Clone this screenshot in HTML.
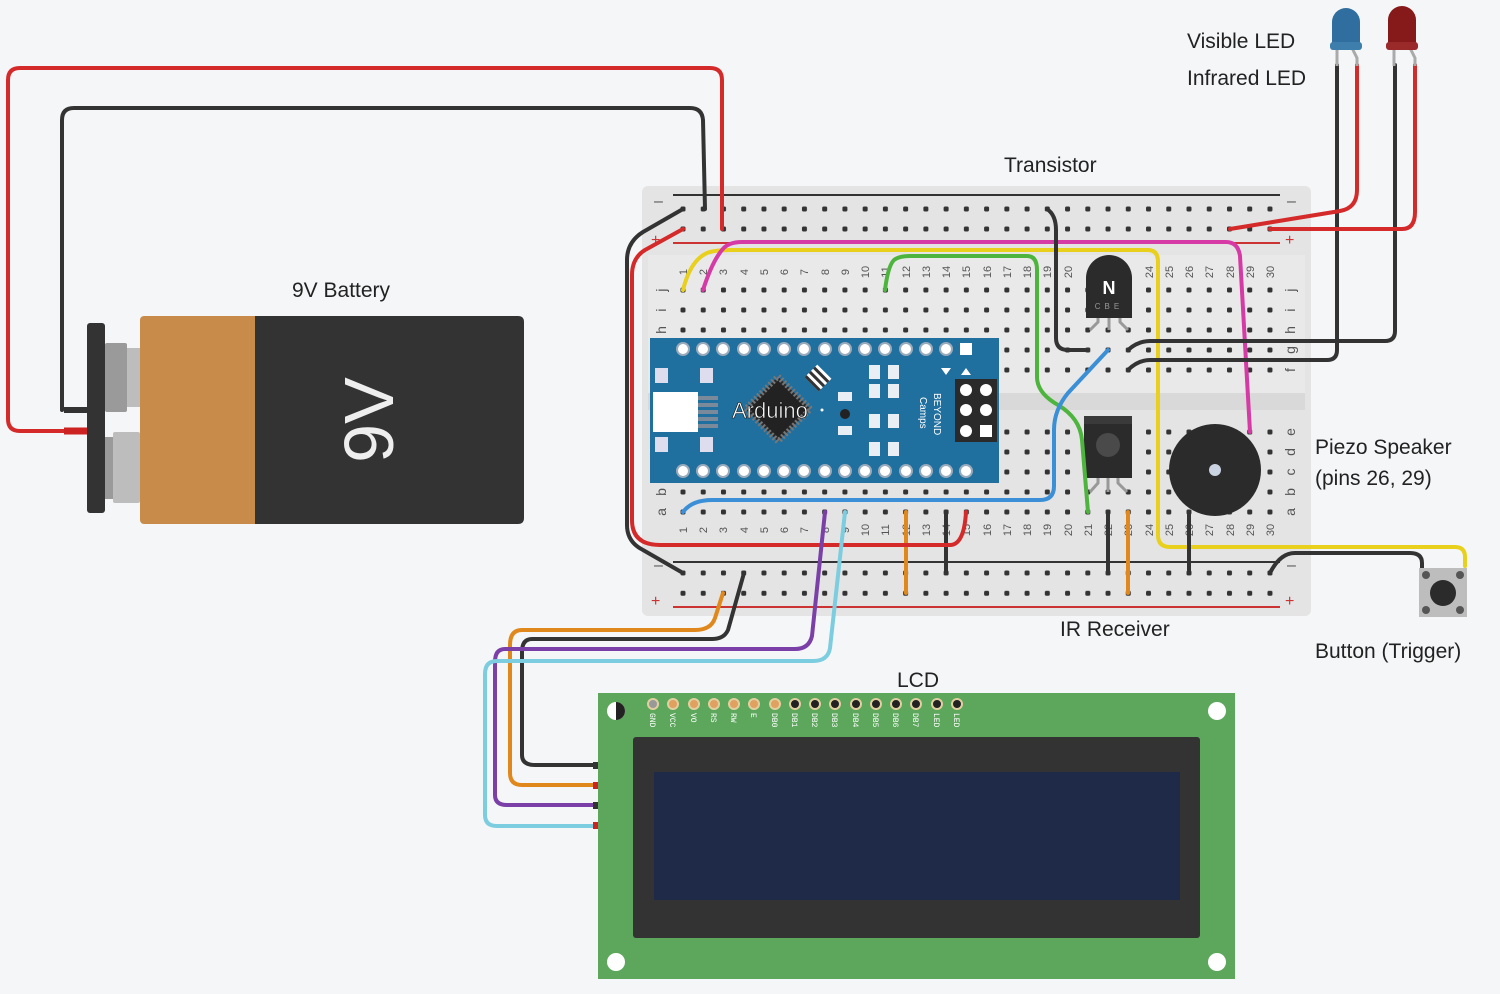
<!DOCTYPE html>
<html><head><meta charset="utf-8"><style>
html,body{margin:0;padding:0;background:#f4f6f8;}
svg{display:block;font-family:"Liberation Sans","DejaVu Sans",sans-serif;}
.lbl{font-size:21px;fill:#222;}
.w{fill:none;stroke-width:4;stroke-linecap:round;stroke-linejoin:round;}
.num{font-size:11px;fill:#555;}
.pin{font-size:8px;fill:#fff;font-family:"Liberation Mono",monospace;}
</style></head><body>
<svg width="1500" height="994" viewBox="0 0 1500 994" xmlns="http://www.w3.org/2000/svg">
<defs>
<pattern id="hole" x="680.5" y="287.5" width="20.24" height="20" patternUnits="userSpaceOnUse">
<rect x="0" y="0" width="5" height="5" rx="1.5" fill="#333"/>
</pattern>
<pattern id="hole2" x="680.5" y="206.5" width="20.24" height="20" patternUnits="userSpaceOnUse">
<rect x="0" y="0" width="5" height="5" rx="1.5" fill="#333"/>
</pattern>
<pattern id="hole3" x="680.5" y="429.5" width="20.24" height="20" patternUnits="userSpaceOnUse">
<rect x="0" y="0" width="5" height="5" rx="1.5" fill="#333"/>
</pattern>
<pattern id="hole4" x="680.5" y="570.5" width="20.24" height="20.3" patternUnits="userSpaceOnUse">
<rect x="0" y="0" width="5" height="5" rx="1.5" fill="#333"/>
</pattern>
</defs>

<!-- Breadboard -->
<rect x="642" y="186" width="669" height="430" rx="6" fill="#e4e4e4"/>
<rect x="648" y="255" width="657" height="140" fill="#e9e9e9"/>
<rect x="648" y="393" width="657" height="17" fill="#d9d9d9"/>
<line x1="673" y1="195" x2="1280" y2="195" stroke="#333" stroke-width="2"/>
<line x1="673" y1="243" x2="1280" y2="243" stroke="#c33" stroke-width="2"/>
<line x1="673" y1="562" x2="1280" y2="562" stroke="#333" stroke-width="2"/>
<line x1="673" y1="607" x2="1280" y2="607" stroke="#c33" stroke-width="2"/>
<rect x="680" y="206" width="595" height="30" fill="url(#hole2)"/>
<rect x="680" y="287" width="595" height="90" fill="url(#hole)"/>
<rect x="680" y="429" width="595" height="90" fill="url(#hole3)"/>
<rect x="680" y="570" width="595" height="30" fill="url(#hole4)"/>
<g font-size="16" fill="#555">
<text x="654" y="206">–</text><text x="1287" y="206">–</text>
<text x="651" y="245" fill="#c33">+</text><text x="1285" y="245" fill="#c33">+</text>
<text x="654" y="570">–</text><text x="1287" y="570">–</text>
<text x="651" y="606" fill="#c33">+</text><text x="1285" y="606" fill="#c33">+</text>
</g>
<g font-size="14" fill="#555" text-anchor="middle">
<text transform="translate(666,290) rotate(-90)">j</text>
<text transform="translate(666,310) rotate(-90)">i</text>
<text transform="translate(666,330) rotate(-90)">h</text>
<text transform="translate(666,350) rotate(-90)">g</text>
<text transform="translate(666,370) rotate(-90)">f</text>
<text transform="translate(666,432) rotate(-90)">e</text>
<text transform="translate(666,452) rotate(-90)">d</text>
<text transform="translate(666,472) rotate(-90)">c</text>
<text transform="translate(666,492) rotate(-90)">b</text>
<text transform="translate(666,512) rotate(-90)">a</text>
<text transform="translate(1295,290) rotate(-90)">j</text>
<text transform="translate(1295,310) rotate(-90)">i</text>
<text transform="translate(1295,330) rotate(-90)">h</text>
<text transform="translate(1295,350) rotate(-90)">g</text>
<text transform="translate(1295,370) rotate(-90)">f</text>
<text transform="translate(1295,432) rotate(-90)">e</text>
<text transform="translate(1295,452) rotate(-90)">d</text>
<text transform="translate(1295,472) rotate(-90)">c</text>
<text transform="translate(1295,492) rotate(-90)">b</text>
<text transform="translate(1295,512) rotate(-90)">a</text>
</g>
<g class="num" text-anchor="middle">
<text transform="translate(687,272) rotate(-90)">1</text><text transform="translate(707,272) rotate(-90)">2</text><text transform="translate(727,272) rotate(-90)">3</text><text transform="translate(748,272) rotate(-90)">4</text><text transform="translate(768,272) rotate(-90)">5</text><text transform="translate(788,272) rotate(-90)">6</text><text transform="translate(808,272) rotate(-90)">7</text><text transform="translate(829,272) rotate(-90)">8</text><text transform="translate(849,272) rotate(-90)">9</text><text transform="translate(869,272) rotate(-90)">10</text><text transform="translate(889,272) rotate(-90)">11</text><text transform="translate(910,272) rotate(-90)">12</text><text transform="translate(930,272) rotate(-90)">13</text><text transform="translate(950,272) rotate(-90)">14</text><text transform="translate(970,272) rotate(-90)">15</text><text transform="translate(991,272) rotate(-90)">16</text><text transform="translate(1011,272) rotate(-90)">17</text><text transform="translate(1031,272) rotate(-90)">18</text><text transform="translate(1051,272) rotate(-90)">19</text><text transform="translate(1072,272) rotate(-90)">20</text><text transform="translate(1153,272) rotate(-90)">24</text><text transform="translate(1173,272) rotate(-90)">25</text><text transform="translate(1193,272) rotate(-90)">26</text><text transform="translate(1213,272) rotate(-90)">27</text><text transform="translate(1234,272) rotate(-90)">28</text><text transform="translate(1254,272) rotate(-90)">29</text><text transform="translate(1274,272) rotate(-90)">30</text>
<text transform="translate(687,530) rotate(-90)">1</text><text transform="translate(707,530) rotate(-90)">2</text><text transform="translate(727,530) rotate(-90)">3</text><text transform="translate(748,530) rotate(-90)">4</text><text transform="translate(768,530) rotate(-90)">5</text><text transform="translate(788,530) rotate(-90)">6</text><text transform="translate(808,530) rotate(-90)">7</text><text transform="translate(829,530) rotate(-90)">8</text><text transform="translate(849,530) rotate(-90)">9</text><text transform="translate(869,530) rotate(-90)">10</text><text transform="translate(889,530) rotate(-90)">11</text><text transform="translate(910,530) rotate(-90)">12</text><text transform="translate(930,530) rotate(-90)">13</text><text transform="translate(950,530) rotate(-90)">14</text><text transform="translate(970,530) rotate(-90)">15</text><text transform="translate(991,530) rotate(-90)">16</text><text transform="translate(1011,530) rotate(-90)">17</text><text transform="translate(1031,530) rotate(-90)">18</text><text transform="translate(1051,530) rotate(-90)">19</text><text transform="translate(1072,530) rotate(-90)">20</text><text transform="translate(1092,530) rotate(-90)">21</text><text transform="translate(1112,530) rotate(-90)">22</text><text transform="translate(1132,530) rotate(-90)">23</text><text transform="translate(1153,530) rotate(-90)">24</text><text transform="translate(1173,530) rotate(-90)">25</text><text transform="translate(1193,530) rotate(-90)">26</text><text transform="translate(1213,530) rotate(-90)">27</text><text transform="translate(1234,530) rotate(-90)">28</text><text transform="translate(1254,530) rotate(-90)">29</text><text transform="translate(1274,530) rotate(-90)">30</text>
</g>

<!-- Arduino Nano -->
<rect x="650" y="338" width="349" height="145" fill="#1f6f9f"/>
<g fill="#fff" stroke="#9ab" stroke-width="2">
<circle cx="683" cy="349" r="6"/><circle cx="703" cy="349" r="6"/><circle cx="723" cy="349" r="6"/><circle cx="744" cy="349" r="6"/><circle cx="764" cy="349" r="6"/><circle cx="784" cy="349" r="6"/><circle cx="804" cy="349" r="6"/><circle cx="825" cy="349" r="6"/><circle cx="845" cy="349" r="6"/><circle cx="865" cy="349" r="6"/><circle cx="885" cy="349" r="6"/><circle cx="906" cy="349" r="6"/><circle cx="926" cy="349" r="6"/><circle cx="946" cy="349" r="6"/>
<circle cx="683" cy="471" r="6"/><circle cx="703" cy="471" r="6"/><circle cx="723" cy="471" r="6"/><circle cx="744" cy="471" r="6"/><circle cx="764" cy="471" r="6"/><circle cx="784" cy="471" r="6"/><circle cx="804" cy="471" r="6"/><circle cx="825" cy="471" r="6"/><circle cx="845" cy="471" r="6"/><circle cx="865" cy="471" r="6"/><circle cx="885" cy="471" r="6"/><circle cx="906" cy="471" r="6"/><circle cx="926" cy="471" r="6"/><circle cx="946" cy="471" r="6"/><circle cx="966" cy="471" r="6"/>
</g>
<rect x="960" y="343" width="12" height="12" fill="#fff"/>
<rect x="653" y="392" width="45" height="40" fill="#fff"/>
<g fill="#7a8a9a"><rect x="698" y="396" width="20" height="4"/><rect x="698" y="403" width="20" height="4"/><rect x="698" y="410" width="20" height="4"/><rect x="698" y="417" width="20" height="4"/><rect x="698" y="424" width="20" height="4"/></g>
<g fill="#dde"><rect x="655" y="368" width="13" height="15"/><rect x="700" y="368" width="13" height="15"/><rect x="655" y="437" width="13" height="15"/><rect x="700" y="437" width="13" height="15"/></g>
<rect x="755" y="386" width="46" height="46" fill="#2a2a2a" stroke="#777" stroke-width="6" stroke-dasharray="2 2" transform="rotate(45 778 409)"/>
<rect x="758" y="389" width="40" height="40" fill="#222" transform="rotate(45 778 409)"/>
<g transform="rotate(45 818 378)"><rect x="808" y="369" width="20" height="18" fill="#fff"/><rect x="808" y="372" width="20" height="3" fill="#333"/><rect x="808" y="378" width="20" height="3" fill="#333"/><rect x="808" y="384" width="20" height="3" fill="#333"/></g>
<text x="732" y="418" font-size="22" fill="#fff" stroke="#111" stroke-width="0.6">Arduino</text>
<circle cx="822" cy="410" r="1.5" fill="#fff"/>
<circle cx="845" cy="414" r="5" fill="#222"/>
<g fill="#e8eef3"><rect x="838" y="392" width="14" height="9"/><rect x="838" y="426" width="14" height="9"/>
<rect x="869" y="365" width="11" height="14"/><rect x="888" y="365" width="11" height="14"/><rect x="869" y="384" width="11" height="14"/><rect x="888" y="384" width="11" height="14"/><rect x="869" y="414" width="11" height="14"/><rect x="888" y="414" width="11" height="14"/><rect x="869" y="442" width="11" height="14"/><rect x="888" y="442" width="11" height="14"/></g>
<text transform="translate(934,393) rotate(90)" font-size="10" fill="#fff">BEYOND</text>
<text transform="translate(920,397) rotate(90)" font-size="10" fill="#fff">Camps</text>
<polygon points="941,368 951,368 946,375" fill="#fff"/><polygon points="961,375 971,375 966,368" fill="#fff"/>
<rect x="955" y="379" width="42" height="63" fill="#2a2a2a"/>
<g fill="#fff"><circle cx="966" cy="390" r="6"/><circle cx="986" cy="390" r="6"/><circle cx="966" cy="410" r="6"/><circle cx="986" cy="410" r="6"/><circle cx="966" cy="431" r="6"/><rect x="980" y="425" width="12" height="12"/></g>

<!-- Transistor -->
<path d="M1086,318 V278 A23,23 0 0 1 1132,278 V318 Z" fill="#2b2b2b"/>
<text x="1109" y="294" font-size="18" fill="#fff" text-anchor="middle" font-weight="bold">N</text>
<text x="1109" y="309" font-size="8" fill="#999" text-anchor="middle" letter-spacing="4">CBE</text>
<g stroke="#999" stroke-width="3" fill="none"><path d="M1098,318 V322 L1090,330"/><path d="M1109,318 V330"/><path d="M1120,318 V322 L1128,330"/></g>
<!-- IR receiver -->
<rect x="1084" y="416" width="48" height="62" fill="#2b2b2b"/>
<rect x="1084" y="416" width="48" height="8" fill="#3a3a3a"/>
<circle cx="1108" cy="445" r="12" fill="#4a4a4a"/>
<g stroke="#999" stroke-width="3" fill="none"><path d="M1098,478 V483 L1090,492"/><path d="M1108,478 V492"/><path d="M1118,478 V483 L1127,492"/></g>
<!-- Piezo -->
<circle cx="1215" cy="470" r="46" fill="#2b2b2b"/>
<circle cx="1215" cy="470" r="6" fill="#c9d3e2"/>

<!-- Wires on breadboard -->
<path class="w" stroke="#e8d01c" d="M683,290 Q690,262 705,254 Q712,250 730,250 H1148 Q1158,250 1158,262 V535 Q1158,547 1170,547 H1455 Q1465,547 1465,557 V566"/>
<path class="w" stroke="#d63aa5" d="M703,290 Q712,262 722,250 Q728,242 742,242 H1226 Q1238,242 1240,256 L1250,432"/>
<path class="w" stroke="#4db53d" d="M885,290 Q888,266 894,260 Q899,256 910,256 H1027 Q1037,256 1037,270 V377 Q1037,393 1058,405 Q1080,418 1082,440 L1088,512"/>
<path class="w" stroke="#3a8fd6" d="M683,512 Q692,500 712,500 H1040 Q1054,500 1054,486 V430 Q1054,410 1068,393 L1108,350"/>
<path class="w" stroke="#333" d="M1047,209 Q1056,215 1056,230 V338 Q1056,350 1068,350 H1085"/>
<path class="w" stroke="#e0881c" d="M906,512 V593"/>
<path class="w" stroke="#e0881c" d="M1128,512 V593"/>
<path class="w" stroke="#333" d="M946,512 V573"/>
<path class="w" stroke="#333" d="M1108,512 V573"/>
<path class="w" stroke="#333" d="M1189,512 V573"/>
<path class="w" stroke="#333" d="M1270,573 Q1280,553 1295,553 H1410 Q1422,553 1422,563 V568"/>
<path class="w" stroke="#333" d="M683,209 L643,232 Q627,242 627,260 V525 Q627,542 643,550 L683,573"/>
<path class="w" stroke="#d42a2a" d="M683,229 L645,250 Q632,258 632,275 V520 Q632,545 660,545 H950 Q964,545 966,512"/>

<!-- Battery -->
<path class="w" stroke="#d42a2a" d="M70,431 H20 Q8,431 8,419 V80 Q8,68 20,68 H710 Q722,68 722,80 V229"/>
<path class="w" stroke="#333" d="M62,410 V120 Q62,108 74,108 H690 Q702,108 703,120 L705,209"/>
<rect x="140" y="316" width="120" height="208" rx="4" fill="#c98b4a"/>
<path d="M255,316 H518 Q524,316 524,322 V518 Q524,524 518,524 H255 Z" fill="#333"/>
<rect x="105" y="343" width="22" height="69" rx="2" fill="#9a9a9a"/>
<rect x="127" y="348" width="13" height="59" fill="#bdbdbd"/>
<rect x="105" y="437" width="12" height="62" fill="#9a9a9a"/>
<rect x="113" y="432" width="27" height="71" rx="2" fill="#bdbdbd"/>
<rect x="87" y="323" width="18" height="190" rx="3" fill="#333"/>
<path d="M64,410 H87" stroke="#333" stroke-width="6"/>
<path d="M64,431 H87" stroke="#c22" stroke-width="7"/>
<text transform="translate(393,420) rotate(-90)" font-size="70" fill="#eee" text-anchor="middle">9V</text>

<!-- LEDs -->
<path class="w" stroke="#333" d="M1128,370 Q1138,360 1150,360 H1327 Q1337,360 1337,350 V65"/>
<path class="w" stroke="#333" d="M1128,350 Q1138,341 1150,341 H1385 Q1395,341 1395,331 V65"/>
<path class="w" stroke="#d42a2a" d="M1230,229 L1340,211 Q1357,208 1357,190 V65"/>
<path class="w" stroke="#d42a2a" d="M1270,229 H1402 Q1415,229 1415,212 V65"/>
<g stroke="#aaa" stroke-width="3" fill="none"><path d="M1337,48 V66"/><path d="M1352,48 L1357,58 V66"/><path d="M1394,48 V66"/><path d="M1410,48 L1415,58 V66"/></g>
<path d="M1332,48 V22 A14,14 0 0 1 1360,22 V48 Z" fill="#2f6e9e"/><rect x="1330" y="42" width="32" height="8" rx="3" fill="#3e7eac"/>
<path d="M1388,48 V20 A14,14 0 0 1 1416,20 V48 Z" fill="#861a1a"/><rect x="1386" y="42" width="32" height="8" rx="3" fill="#9a2a2a"/>

<!-- Button -->
<rect x="1419" y="568" width="48" height="49" fill="#bdbdbd"/>
<g fill="#555"><circle cx="1426" cy="575" r="4"/><circle cx="1460" cy="575" r="4"/><circle cx="1426" cy="610" r="4"/><circle cx="1460" cy="610" r="4"/></g>
<circle cx="1443" cy="593" r="13" fill="#2b2b2b"/>

<!-- LCD wires -->
<path class="w" stroke="#e0881c" d="M723,593 L715,618 Q711,630 695,630 H522 Q510,630 510,645 V773 Q510,785 522,785 H595"/>
<path class="w" stroke="#333" d="M744,573 L728,630 Q724,639 712,639 H532 Q522,639 522,652 V755 Q522,765 535,765 H595"/>
<path class="w" stroke="#7b3fa8" d="M825,512 L812,636 Q809,649 795,649 H505 Q495,649 495,662 V795 Q495,805 507,805 H595"/>
<path class="w" stroke="#7ccde0" d="M845,512 L830,648 Q828,661 813,661 H497 Q485,661 485,674 V815 Q485,826 497,826 H595"/>
<g><rect x="593" y="762" width="6" height="7" fill="#333"/><rect x="593" y="782" width="6" height="7" fill="#c22"/><rect x="593" y="802" width="6" height="7" fill="#333"/><rect x="593" y="822" width="6" height="7" fill="#c22"/></g>

<!-- LCD -->
<rect x="598" y="693" width="637" height="286" fill="#5ca75c"/>
<rect x="633" y="737" width="567" height="201" rx="3" fill="#333"/>
<rect x="654" y="772" width="526" height="128" fill="#1f2a48"/>
<circle cx="1217" cy="711" r="9" fill="#fff"/><circle cx="616" cy="962" r="9" fill="#fff"/><circle cx="1217" cy="962" r="9" fill="#fff"/>
<circle cx="616" cy="711" r="9" fill="#fff"/><path d="M616,702 A9,9 0 0 1 616,720 Z" fill="#222"/>
<g stroke="#e2cfa0" stroke-width="2">
<circle cx="653" cy="704" r="5" fill="#999"/><circle cx="673" cy="704" r="5" fill="#e0a060"/><circle cx="694" cy="704" r="5" fill="#e0a060"/><circle cx="714" cy="704" r="5" fill="#e0a060"/><circle cx="734" cy="704" r="5" fill="#e0a060"/><circle cx="754" cy="704" r="5" fill="#e0a060"/><circle cx="775" cy="704" r="5" fill="#e0a060"/><circle cx="795" cy="704" r="5" fill="#222"/><circle cx="815" cy="704" r="5" fill="#222"/><circle cx="835" cy="704" r="5" fill="#222"/><circle cx="856" cy="704" r="5" fill="#222"/><circle cx="876" cy="704" r="5" fill="#222"/><circle cx="896" cy="704" r="5" fill="#222"/><circle cx="916" cy="704" r="5" fill="#222"/><circle cx="937" cy="704" r="5" fill="#222"/><circle cx="957" cy="704" r="5" fill="#222"/>
</g>
<g class="pin">
<text transform="translate(650,713) rotate(90)">GND</text><text transform="translate(670,713) rotate(90)">VCC</text><text transform="translate(691,713) rotate(90)">VO</text><text transform="translate(711,713) rotate(90)">RS</text><text transform="translate(731,713) rotate(90)">RW</text><text transform="translate(751,713) rotate(90)">E</text><text transform="translate(772,713) rotate(90)">DB0</text><text transform="translate(792,713) rotate(90)">DB1</text><text transform="translate(812,713) rotate(90)">DB2</text><text transform="translate(832,713) rotate(90)">DB3</text><text transform="translate(853,713) rotate(90)">DB4</text><text transform="translate(873,713) rotate(90)">DB5</text><text transform="translate(893,713) rotate(90)">DB6</text><text transform="translate(913,713) rotate(90)">DB7</text><text transform="translate(934,713) rotate(90)">LED</text><text transform="translate(954,713) rotate(90)">LED</text>
</g>

<!-- Labels -->
<text class="lbl" x="292" y="297">9V Battery</text>
<text class="lbl" x="1004" y="172">Transistor</text>
<text class="lbl" x="1187" y="48">Visible LED</text>
<text class="lbl" x="1187" y="85">Infrared LED</text>
<text class="lbl" x="1315" y="454">Piezo Speaker</text>
<text class="lbl" x="1315" y="485">(pins 26, 29)</text>
<text class="lbl" x="1060" y="636">IR Receiver</text>
<text class="lbl" x="1315" y="658">Button (Trigger)</text>
<text class="lbl" x="897" y="687">LCD</text>
</svg>
</body></html>
